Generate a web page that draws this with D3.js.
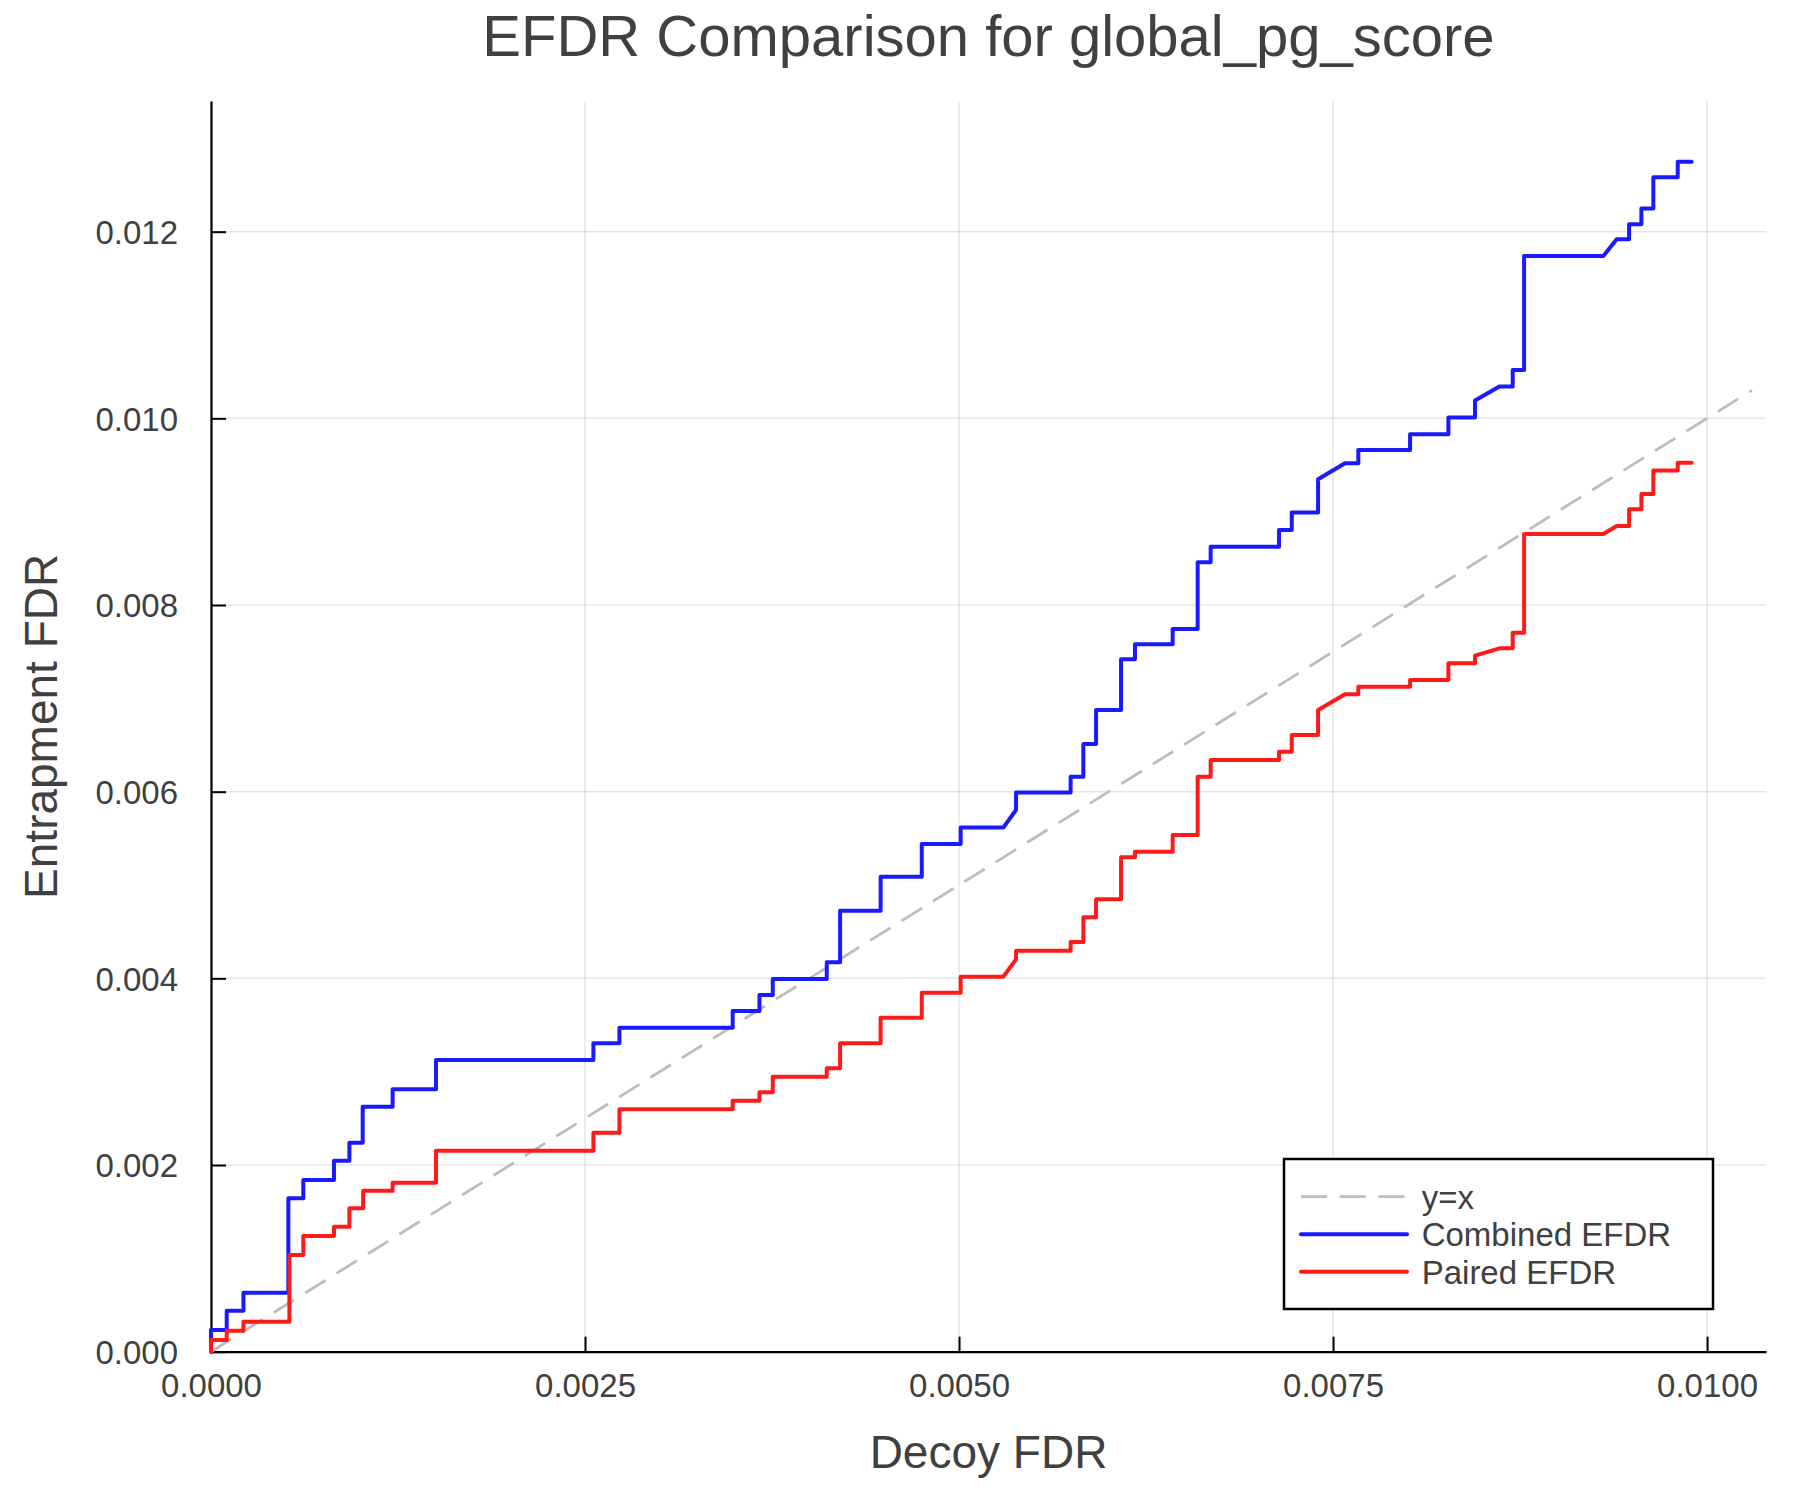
<!DOCTYPE html>
<html>
<head>
<meta charset="utf-8">
<script src="https://cdn.jsdelivr.net/npm/d3@7"></script>
<style>
  html, body { margin: 0; padding: 0; background: #fff; }
  svg { display: block; }
  text { font-family: "Liberation Sans", Arial, Helvetica, sans-serif; fill: #404040; }
</style>
</head>
<body>
<svg id="chart" width="1800" height="1500"></svg>
<script>
// ---------------- DATA ----------------
const titleText = "EFDR Comparison for global_pg_score";
const xLabel = "Decoy FDR";
const yLabel = "Entrapment FDR";
const xTicks = [0, 0.0025, 0.005, 0.0075, 0.01];
const yTicks = [0, 0.002, 0.004, 0.006, 0.008, 0.010, 0.012];
const seriesNames = ["y=x", "Combined EFDR", "Paired EFDR"];

// Reference diagonal (y = x)
const diagX = [0, 0.0103];
const diagY = [0, 0.0103];

// Combined EFDR path vertices (decoy FDR, entrapment FDR)
const combinedX = [0, 0, 0.000105, 0.000105, 0.000217, 0.000217, 0.000517, 0.000517, 0.000617, 0.000617,
  0.000822, 0.000822, 0.000925, 0.000925, 0.001014, 0.001014, 0.001214, 0.001214, 0.001504, 0.001504,
  0.002556, 0.002556, 0.00273, 0.00273, 0.003487, 0.003487, 0.003666, 0.003666, 0.003755, 0.003755,
  0.004116, 0.004116, 0.004205, 0.004205, 0.004476, 0.004476, 0.004751, 0.004751, 0.005011, 0.005011,
  0.005296, 0.005381, 0.005381, 0.005746, 0.005746, 0.005831, 0.005831, 0.005916, 0.005916,
  0.006083, 0.006083, 0.006176, 0.006176, 0.006428, 0.006428, 0.006595, 0.006595, 0.006682, 0.006682,
  0.007139, 0.007139, 0.007224, 0.007224, 0.0074, 0.0074, 0.00758, 0.007669, 0.007669,
  0.008015, 0.008015, 0.008271, 0.008271, 0.008449, 0.008449, 0.008612, 0.008701, 0.008701,
  0.008777, 0.008777, 0.009307, 0.009396, 0.009479, 0.009479, 0.009561, 0.009561,
  0.009641, 0.009641, 0.009804, 0.009804, 0.009897];
const combinedY = [0, 0.000232, 0.000232, 0.000439, 0.000439, 0.000632, 0.000632, 0.001643, 0.001643, 0.00184,
  0.00184, 0.002047, 0.002047, 0.00224, 0.00224, 0.002625, 0.002625, 0.002811, 0.002811, 0.003125,
  0.003125, 0.003304, 0.003304, 0.003472, 0.003472, 0.00365, 0.00365, 0.003822, 0.003822, 0.003993,
  0.003993, 0.004172, 0.004172, 0.004725, 0.004725, 0.005089, 0.005089, 0.00544, 0.00544, 0.005615,
  0.005615, 0.005804, 0.00599, 0.00599, 0.00616, 0.00616, 0.006511, 0.006511, 0.006876,
  0.006876, 0.007419, 0.007419, 0.00758, 0.00758, 0.007743, 0.007743, 0.008458, 0.008458, 0.008625,
  0.008625, 0.008804, 0.008804, 0.00899, 0.00899, 0.009347, 0.009519, 0.009519, 0.009661,
  0.009661, 0.00983, 0.00983, 0.010008, 0.010008, 0.01019, 0.01034, 0.01034, 0.010518,
  0.010518, 0.01174, 0.01174, 0.011919, 0.011919, 0.01208, 0.01208, 0.012247,
  0.012247, 0.012583, 0.012583, 0.01275, 0.01275];

// Paired EFDR path vertices
const pairedX = [0, 0, 0.000105, 0.000105, 0.000217, 0.000217, 0.000524, 0.000524, 0.000617, 0.000617,
  0.000822, 0.000822, 0.000925, 0.000925, 0.001017, 0.001017, 0.001214, 0.001214, 0.001504, 0.001504,
  0.002556, 0.002556, 0.00273, 0.00273, 0.003487, 0.003487, 0.003666, 0.003666, 0.003755, 0.003755,
  0.004116, 0.004116, 0.004205, 0.004205, 0.004476, 0.004476, 0.004751, 0.004751, 0.005011, 0.005011,
  0.005296, 0.005381, 0.005381, 0.005746, 0.005746, 0.005831, 0.005831, 0.005916, 0.005916,
  0.006083, 0.006083, 0.006176, 0.006176, 0.006428, 0.006428, 0.006595, 0.006595, 0.006682, 0.006682,
  0.007139, 0.007139, 0.007224, 0.007224, 0.0074, 0.0074, 0.00758, 0.007669, 0.007669,
  0.008015, 0.008015, 0.008271, 0.008271, 0.008449, 0.008449, 0.008612, 0.008701, 0.008701,
  0.008777, 0.008777, 0.009307, 0.009396, 0.009479, 0.009479, 0.009561, 0.009561,
  0.009641, 0.009641, 0.009804, 0.009804, 0.009897];
const pairedY = [0, 0.000125, 0.000125, 0.000225, 0.000225, 0.000321, 0.000321, 0.001036, 0.001036, 0.00124,
  0.00124, 0.001339, 0.001339, 0.001536, 0.001536, 0.001725, 0.001725, 0.001811, 0.001811, 0.002154,
  0.002154, 0.002347, 0.002347, 0.002597, 0.002597, 0.002689, 0.002689, 0.002779, 0.002779, 0.002947,
  0.002947, 0.003036, 0.003036, 0.003304, 0.003304, 0.003579, 0.003579, 0.003847, 0.003847, 0.004018,
  0.004018, 0.004204, 0.004297, 0.004297, 0.00439, 0.00439, 0.004654, 0.004654, 0.004847,
  0.004847, 0.005297, 0.005297, 0.005357, 0.005357, 0.005536, 0.005536, 0.00616, 0.00616, 0.00634,
  0.00634, 0.006429, 0.006429, 0.006608, 0.006608, 0.006876, 0.007044, 0.007044, 0.007125,
  0.007125, 0.007197, 0.007197, 0.007376, 0.007376, 0.007457, 0.007536, 0.007536, 0.007704,
  0.007704, 0.008761, 0.008761, 0.008847, 0.008847, 0.009026, 0.009026, 0.00919,
  0.00919, 0.00944, 0.00944, 0.009525, 0.009525];

// ---------------- DRAW ----------------
const svg = d3.select("#chart");
const W = 1800, H = 1500;
const plot = { left: 211, right: 1766, top: 101, bottom: 1351.7 };

svg.append("rect").attr("width", W).attr("height", H).attr("fill", "#fff");

const x = d3.scaleLinear().domain([0, 0.010394]).range([plot.left, plot.right]);
const y = d3.scaleLinear().domain([0, 0.0134]).range([plot.bottom, plot.top]);

// grid
const grid = svg.append("g");
grid.selectAll(".gx").data(xTicks).enter().append("line")
  .attr("x1", d => x(d)).attr("x2", d => x(d))
  .attr("y1", plot.top).attr("y2", plot.bottom)
  .attr("stroke", "#000").attr("stroke-opacity", 0.1).attr("stroke-width", 1.5);
grid.selectAll(".gy").data(yTicks).enter().append("line")
  .attr("x1", plot.left).attr("x2", plot.right)
  .attr("y1", d => y(d)).attr("y2", d => y(d))
  .attr("stroke", "#000").attr("stroke-opacity", 0.1).attr("stroke-width", 1.5);

// axes
const xAxis = d3.axisBottom(x).tickValues(xTicks).tickFormat(d3.format(".4f"))
  .tickSizeInner(-15).tickSizeOuter(0).tickPadding(30);
const yAxis = d3.axisLeft(y).tickValues(yTicks).tickFormat(d3.format(".3f"))
  .tickSizeInner(-15).tickSizeOuter(0).tickPadding(33);

const gx = svg.append("g").attr("transform", `translate(0,${plot.bottom})`).call(xAxis);
const gy = svg.append("g").attr("transform", `translate(${plot.left},0)`).call(yAxis);
[gx, gy].forEach(g => {
  g.select(".domain").attr("stroke", "#000").attr("stroke-width", 2.2);
  g.selectAll(".tick line").attr("stroke", "#000").attr("stroke-width", 2);
  g.selectAll(".tick text").attr("fill", "#404040")
    .style("font-family", '"Liberation Sans", Arial, sans-serif').style("font-size", "33px");
});
gx.selectAll(".tick text").attr("dy", "0.71em").attr("y", 22);
gy.selectAll(".tick text").attr("x", -33).attr("dy", "0.36em");

// lines
const line = d3.line().x(d => x(d[0])).y(d => y(d[1]));
const zip = (a, b) => a.map((v, i) => [v, b[i]]);

svg.append("path").datum(zip(diagX, diagY)).attr("d", line)
  .attr("fill", "none").attr("stroke", "#bdbdbd").attr("stroke-width", 2.8)
  .attr("stroke-dasharray", "24,13");
svg.append("path").datum(zip(combinedX, combinedY)).attr("d", line)
  .attr("fill", "none").attr("stroke", "#1a1aff").attr("stroke-width", 4)
  .attr("stroke-linejoin", "round").attr("stroke-linecap", "round");
svg.append("path").datum(zip(pairedX, pairedY)).attr("d", line)
  .attr("fill", "none").attr("stroke", "#ff1a1a").attr("stroke-width", 4)
  .attr("stroke-linejoin", "round").attr("stroke-linecap", "round");

// title and labels
svg.append("text").attr("x", (plot.left + plot.right) / 2).attr("y", 56)
  .attr("text-anchor", "middle").style("font-size", "58px").text(titleText);
svg.append("text").attr("x", (plot.left + plot.right) / 2).attr("y", 1468)
  .attr("text-anchor", "middle").style("font-size", "46px").text(xLabel);
svg.append("text").attr("transform", `translate(57,${(plot.top + plot.bottom) / 2}) rotate(-90)`)
  .attr("text-anchor", "middle").style("font-size", "46px").text(yLabel);

// legend
const leg = svg.append("g");
leg.append("rect").attr("x", 1284).attr("y", 1159).attr("width", 429).attr("height", 150)
  .attr("fill", "#fff").attr("stroke", "#000").attr("stroke-width", 2.5);
const legStyles = [
  { color: "#bdbdbd", dash: "26,12.7", w: 2.8 },
  { color: "#1a1aff", dash: null, w: 4 },
  { color: "#ff1a1a", dash: null, w: 4 }
];
const rowY = d3.scalePoint().domain(seriesNames).range([1196.7, 1271.7]);
seriesNames.forEach((name, i) => {
  const yy = rowY(name);
  const l = leg.append("line").attr("x1", 1301).attr("x2", 1407).attr("y1", yy).attr("y2", yy)
    .attr("stroke", legStyles[i].color).attr("stroke-width", legStyles[i].w);
  if (legStyles[i].dash) l.attr("stroke-dasharray", legStyles[i].dash);
  else l.attr("stroke-linecap", "round");
  leg.append("text").attr("x", 1421.7).attr("y", yy).attr("dy", "0.36em")
    .style("font-size", "33px").text(name);
});
</script>
</body>
</html>
